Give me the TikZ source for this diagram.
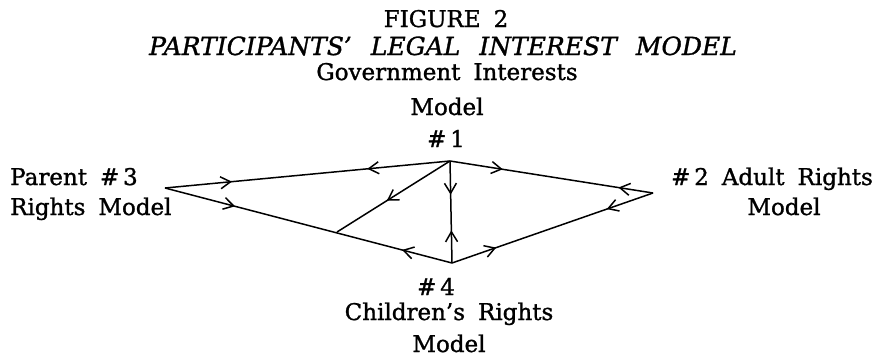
\documentclass[tikz,border=0pt]{standalone}
\usepackage{fontspec}
\setmainfont{DejaVu Serif}[FakeBold=1.2]
\usetikzlibrary{arrows.meta,decorations.markings}
\newcommand\lblfont{\fontsize{23}{28}\selectfont\spaceskip=13pt plus 2pt minus 2pt\relax}
\newcommand\ttlfont{\fontsize{25}{30}\selectfont\itshape\spaceskip=19pt plus 2pt minus 2pt\relax}
\tikzset{
  chev/.tip={Straight Barb[length=10pt,width=12pt,line width=1.5pt]},
  edge/.style={line width=1.5pt},
  fw/.style={postaction={decorate,decoration={markings,mark=at position #1 with {\arrow{chev}}}}},
  bw/.style={postaction={decorate,decoration={markings,mark=at position #1 with {\arrowreversed{chev}}}}},
  lbl/.style={font=\lblfont,inner sep=0pt,anchor=base},
}
\begin{document}
\begin{tikzpicture}[x=1pt,y=-1pt]
\useasboundingbox (0,0) rectangle (886,359);
% title
\node[lbl] (fig) at (446,27) {FIGURE 2};
\node[lbl,font=\ttlfont] (ttl) at (443,55) {PARTICIPANTS' LEGAL INTEREST MODEL};
% vertex labels
\node[lbl] (g1) at (447,80) {Government Interests};
\node[lbl] (g2) at (447,115) {Model};
\node[lbl] (g3) at (446,147) {\#\,1};
\node[lbl,anchor=base west] (p1) at (10,185) {Parent \#\,3};
\node[lbl,anchor=base west] (p2) at (10,215) {Rights Model};
\node[lbl] (a1) at (772,185) {\#\,2 Adult Rights};
\node[lbl] (a2) at (784,215) {Model};
\node[lbl] (c1) at (436,295) {\#\,4};
\node[lbl] (c2) at (449,320) {Children's Rights};
\node[lbl] (c3) at (449,352) {Model};
% vertices
\coordinate (v1) at (450,161);
\coordinate (v2) at (653,193);
\coordinate (v3) at (165,188);
\coordinate (v4) at (452,263);
\coordinate (j) at (337,232);
% connectors
\draw[edge,fw=0.235,bw=0.71] (v3) -- (v1);
\draw[edge,fw=0.244,bw=0.826] (v3) -- (v4);
\draw[edge,fw=0.56] (v1) -- (j);
\draw[edge,fw=0.33,bw=0.68] (v1) -- (v4);
\draw[edge,fw=0.26,bw=0.83] (v1) -- (v2);
\draw[edge,fw=0.22,bw=0.77] (v4) -- (v2);
\end{tikzpicture}
\end{document}
